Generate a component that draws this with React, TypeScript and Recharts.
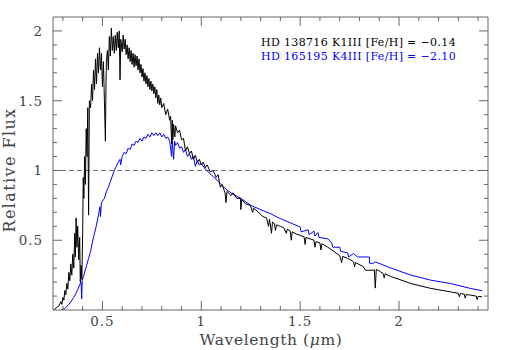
import React from "react";
import { LineChart, Line, XAxis, YAxis, ReferenceLine } from "recharts";

// HD 138716 K1III (black)
const blackWave = [
  0.255, 0.27, 0.28, 0.29, 0.295, 0.3, 0.305, 0.31, 0.315, 0.32, 0.325, 0.33, 0.335, 0.34, 0.345,
  0.35, 0.355, 0.36, 0.363, 0.367, 0.371, 0.375, 0.38, 0.385, 0.388, 0.392, 0.396, 0.4, 0.403,
  0.406, 0.41, 0.414, 0.418, 0.422, 0.426, 0.43, 0.434,
  0.44, 0.445, 0.45, 0.455, 0.46, 0.465, 0.47, 0.475, 0.48, 0.485, 0.49, 0.495, 0.5, 0.505, 0.51,
  0.515, 0.518, 0.52, 0.525, 0.53, 0.535, 0.54, 0.545, 0.55, 0.555, 0.56, 0.565, 0.57, 0.575, 0.58,
  0.585, 0.589, 0.593, 0.6, 0.605, 0.61, 0.615, 0.62, 0.625, 0.63, 0.635, 0.64, 0.645, 0.65, 0.655,
  0.66, 0.665, 0.67, 0.675, 0.68, 0.685, 0.69, 0.695, 0.7, 0.705, 0.71, 0.715, 0.72, 0.725, 0.73,
  0.735, 0.74, 0.745, 0.75, 0.755, 0.76, 0.765, 0.77, 0.775, 0.78, 0.785, 0.79, 0.795, 0.8, 0.81,
  0.82, 0.83, 0.84, 0.845, 0.85, 0.853, 0.856, 0.86, 0.866, 0.87, 0.88, 0.89, 0.9, 0.91, 0.92,
  0.93, 0.94, 0.95, 0.96, 0.97, 0.98, 0.99, 1.0, 1.01, 1.02, 1.03, 1.045, 1.06, 1.075, 1.085,
  1.096, 1.105, 1.12, 1.125, 1.13, 1.15, 1.16, 1.18, 1.198, 1.2, 1.205, 1.225, 1.248, 1.26, 1.265,
  1.29, 1.31, 1.33, 1.34, 1.345, 1.355, 1.36, 1.37, 1.375, 1.38, 1.4, 1.417, 1.43, 1.435, 1.45,
  1.455, 1.46, 1.48, 1.5, 1.52, 1.525, 1.53, 1.55, 1.57, 1.575, 1.58, 1.6, 1.605, 1.61, 1.64,
  1.67, 1.7, 1.71, 1.715, 1.74, 1.755, 1.77, 1.775, 1.78, 1.82, 1.83, 1.87, 1.875, 1.88, 1.885,
  1.9, 1.92, 1.925, 1.93, 1.958, 2.0, 2.06, 2.16, 2.26, 2.3, 2.305, 2.31, 2.33, 2.335, 2.34, 2.36,
  2.39, 2.395, 2.4, 2.42,
];
const blackFlux = [
  0.0, 0.02, 0.03, 0.06, 0.04, 0.09, 0.07, 0.14, 0.11, 0.19, 0.15, 0.27, 0.21, 0.33, 0.25,
  0.4, 0.3, 0.55, 0.38, 0.66, 0.45, 0.6, 0.36, 0.52, 0.2, 0.32, 0.22, 0.55, 0.95,
  0.8, 1.1, 0.9, 1.3, 1.1, 1.45, 0.68, 1.5,
  1.45, 1.62, 1.5, 1.72, 1.58, 1.8, 1.62, 1.84, 1.7, 1.88, 1.72, 1.84, 1.6, 1.78, 1.5,
  1.21, 1.62, 1.78, 1.86, 1.72, 1.96, 1.82, 2.02, 1.86, 1.96, 1.84, 1.97, 1.86, 1.99, 1.88,
  2.0, 1.65, 1.94, 1.85, 1.97, 1.87, 1.94, 1.83, 1.9, 1.8, 1.88, 1.78, 1.86, 1.76, 1.84,
  1.74, 1.83, 1.75, 1.82, 1.72, 1.8, 1.7, 1.76, 1.67, 1.73, 1.64, 1.7, 1.62, 1.68, 1.6,
  1.66, 1.58, 1.64, 1.57, 1.62, 1.55, 1.6, 1.52, 1.58, 1.48, 1.54, 1.47, 1.52, 1.45, 1.48,
  1.4, 1.44, 1.36, 1.39, 1.19, 1.36, 1.22, 1.33, 1.24, 1.32, 1.27, 1.29, 1.22, 1.23, 1.14,
  1.17, 1.12, 1.14, 1.08, 1.11, 1.06, 1.08, 1.04, 1.06, 1.02, 1.04, 0.99, 1.0, 0.95, 0.97,
  0.88, 0.9, 0.84, 0.77, 0.85, 0.82, 0.84, 0.8, 0.8, 0.72, 0.79, 0.76, 0.75, 0.7, 0.73,
  0.7, 0.67, 0.66, 0.6, 0.65, 0.55, 0.63, 0.62, 0.57, 0.61, 0.6, 0.59, 0.55, 0.58, 0.565,
  0.5, 0.56, 0.545, 0.535, 0.525, 0.47, 0.52, 0.51, 0.5, 0.45, 0.49, 0.48, 0.43, 0.475, 0.45,
  0.42, 0.39, 0.34, 0.385, 0.37, 0.36, 0.345, 0.31, 0.34, 0.31, 0.285, 0.285, 0.29, 0.157, 0.29,
  0.28, 0.26, 0.23, 0.26, 0.24, 0.22, 0.19, 0.155, 0.13, 0.12, 0.095, 0.118, 0.113, 0.085, 0.111, 0.107,
  0.1, 0.075, 0.098, 0.095,
];

// HD 165195 K4III (blue)
const blueWave = [
  0.29, 0.31, 0.336, 0.355, 0.37, 0.385, 0.392, 0.395, 0.398, 0.404, 0.42, 0.43, 0.44, 0.45,
  0.46, 0.47, 0.48, 0.488, 0.49, 0.495, 0.51, 0.52, 0.53, 0.54, 0.55, 0.56, 0.57, 0.58, 0.589,
  0.592, 0.6, 0.61, 0.62, 0.63, 0.64, 0.65, 0.66, 0.67, 0.68, 0.69, 0.7, 0.71, 0.72, 0.73, 0.74,
  0.75, 0.76, 0.77, 0.78, 0.79, 0.8, 0.81, 0.82, 0.83, 0.84, 0.85, 0.853, 0.86, 0.865, 0.87, 0.88,
  0.89, 0.9, 0.91, 0.92, 0.93, 0.94, 0.95, 0.96, 0.97, 0.98, 0.99, 1.0, 1.02, 1.05, 1.08, 1.1,
  1.13, 1.16, 1.2, 1.25, 1.3, 1.35, 1.4, 1.45, 1.5, 1.505, 1.54, 1.545, 1.57, 1.575, 1.59, 1.595,
  1.64, 1.66, 1.665, 1.7, 1.705, 1.74, 1.745, 1.77, 1.79, 1.85, 1.851, 1.87, 1.88, 1.96, 2.06,
  2.16, 2.26, 2.36, 2.42,
];
const blueFlux = [
  0.0, 0.01, 0.05, 0.09, 0.13, 0.18, 0.2, 0.08, 0.21, 0.24, 0.32, 0.37, 0.42, 0.49,
  0.55, 0.61, 0.68, 0.74, 0.67, 0.77, 0.8, 0.85, 0.88, 0.92, 0.96, 1.0, 1.03, 1.06, 1.08,
  1.04, 1.1, 1.13, 1.12, 1.16, 1.15, 1.19, 1.18, 1.21, 1.2, 1.23, 1.21, 1.24, 1.23, 1.26, 1.24,
  1.27, 1.25, 1.27, 1.25, 1.27, 1.24, 1.26, 1.23, 1.24, 1.21, 1.1, 1.22, 1.08, 1.21, 1.18, 1.2,
  1.16, 1.17, 1.13, 1.15, 1.1, 1.12, 1.08, 1.1, 1.03, 1.07, 1.04, 1.05, 1.01, 0.97, 0.93, 0.9,
  0.86, 0.83, 0.8, 0.75, 0.72, 0.69, 0.655, 0.625, 0.595, 0.56, 0.575, 0.54, 0.565, 0.53, 0.555, 0.52,
  0.51, 0.48, 0.45, 0.45, 0.42, 0.41, 0.38, 0.405, 0.38, 0.38, 0.335, 0.335, 0.345, 0.3, 0.25,
  0.214, 0.19, 0.155, 0.138,
];

const xTicks = [
  0.3, 0.4, 0.5, 0.6, 0.7, 0.8, 0.9, 1.0, 1.1, 1.2, 1.3, 1.4, 1.5, 1.6, 1.7, 1.8, 1.9, 2.0, 2.1, 2.2, 2.3, 2.4,
];
const yTicks = [
  0.1, 0.2, 0.3, 0.4, 0.5, 0.6, 0.7, 0.8, 0.9, 1.0, 1.1, 1.2, 1.3, 1.4, 1.5, 1.6, 1.7, 1.8, 1.9, 2.0,
];

const legendLines = [
  { text: "HD 138716 K1III [Fe/H] = \u22120.14", color: "#000000" },
  { text: "HD 165195 K4III [Fe/H] = \u22122.10", color: "#0000ff" },
];

const blackData = blackWave.map((x, i) => ({ x, y: blackFlux[i] }));
const blueData = blueWave.map((x, i) => ({ x, y: blueFlux[i] }));

const FONT = "DejaVu Serif, serif";
const AXIS = "#666";
const LABEL = "#444";

function isMajor(v: number) {
  return Math.abs(v * 2 - Math.round(v * 2)) < 1e-6;
}
function fmt(v: number) {
  return String(Math.round(v * 10) / 10);
}

// ticks point into the plot; labels only on bottom/left majors
function makeTick(side: "bottom" | "top" | "left" | "right") {
  return (props: any) => {
    const { x, y, payload } = props;
    const v = payload.value as number;
    const len = isMajor(v) ? 9 : 4;
    if (side === "bottom" || side === "top") {
      const dir = side === "bottom" ? -1 : 1;
      return (
        <g>
          <line x1={x} x2={x} y1={y} y2={y + dir * len} stroke={AXIS} />
          {side === "bottom" && isMajor(v) && (
            <text x={x} y={y + 16} textAnchor="middle" fontFamily={FONT} fontSize={13.5} letterSpacing={0.9} fill={LABEL}>
              {fmt(v)}
            </text>
          )}
        </g>
      );
    }
    const dir = side === "left" ? 1 : -1;
    return (
      <g>
        <line x1={x} x2={x + dir * len} y1={y} y2={y} stroke={AXIS} />
        {side === "left" && isMajor(v) && (
          <text x={x - 10} y={y + 5} textAnchor="end" fontFamily={FONT} fontSize={13.5} letterSpacing={0.9} fill={LABEL}>
            {fmt(v)}
          </text>
        )}
      </g>
    );
  };
}

export default function App() {
  return (
    <div style={{ position: "absolute", left: 0, top: 0, width: 519, height: 350, background: "#fff" }}>
      <LineChart width={519} height={350} margin={{ top: 0, right: 0, left: 0, bottom: 0 }}>
        <XAxis
          xAxisId="b"
          type="number"
          dataKey="x"
          domain={[0.25, 2.45]}
          allowDataOverflow
          ticks={xTicks}
          interval={0}
          height={40}
          tickSize={0}
          tickMargin={0}
          tickLine={false}
          axisLine={{ stroke: AXIS }}
          tick={makeTick("bottom")}
        />
        <XAxis
          xAxisId="t"
          orientation="top"
          type="number"
          dataKey="x"
          domain={[0.25, 2.45]}
          allowDataOverflow
          ticks={xTicks}
          interval={0}
          height={17}
          tickSize={0}
          tickMargin={0}
          tickLine={false}
          axisLine={{ stroke: AXIS }}
          tick={makeTick("top")}
        />
        <YAxis
          yAxisId="l"
          type="number"
          domain={[0, 2.1]}
          allowDataOverflow
          ticks={yTicks}
          interval={0}
          width={53}
          tickSize={0}
          tickMargin={0}
          tickLine={false}
          axisLine={{ stroke: AXIS }}
          tick={makeTick("left")}
        />
        <YAxis
          yAxisId="r"
          orientation="right"
          type="number"
          domain={[0, 2.1]}
          allowDataOverflow
          ticks={yTicks}
          interval={0}
          width={31}
          tickSize={0}
          tickMargin={0}
          tickLine={false}
          axisLine={{ stroke: AXIS }}
          tick={makeTick("right")}
        />
        <ReferenceLine xAxisId="b" yAxisId="l" y={1} stroke="#777" strokeDasharray="5 3" />
        <Line
          xAxisId="b"
          yAxisId="l"
          data={blueData}
          dataKey="y"
          type="linear"
          stroke="#0000ff"
          strokeWidth={1}
          dot={false}
          isAnimationActive={false}
        />
        <Line
          xAxisId="b"
          yAxisId="l"
          data={blackData}
          dataKey="y"
          type="linear"
          stroke="#000000"
          strokeWidth={1}
          dot={false}
          isAnimationActive={false}
        />
      </LineChart>
      <svg width={519} height={350} style={{ position: "absolute", left: 0, top: 0, pointerEvents: "none" }}>
        {legendLines.map((l, i) => (
          <text key={l.text} x={261} y={46 + i * 14} fontFamily={FONT} fontSize={11} letterSpacing={0.35} fill={l.color}>
            {l.text}
          </text>
        ))}
        <text x={271} y={345} textAnchor="middle" fontFamily={FONT} fontSize={15.5} fill={LABEL} letterSpacing={0.6}>
          Wavelength (<tspan fontStyle="italic">μ</tspan>m)
        </text>
        <text
          transform="translate(15,170) rotate(-90)"
          textAnchor="middle"
          fontFamily={FONT}
          fontSize={16}
          fill={LABEL}
          letterSpacing={1.4}
        >
          Relative Flux
        </text>
      </svg>
    </div>
  );
}
